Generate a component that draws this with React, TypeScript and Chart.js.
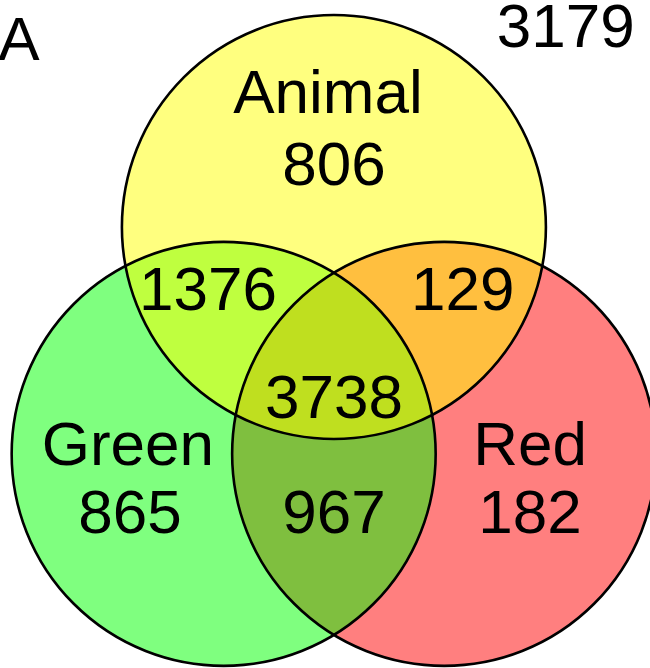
import React, { useEffect, useRef } from "react";
import { Chart, registerables } from "chart.js";

Chart.register(...registerables);

// ---- Data ----
const setNames = ["Animal", "Green", "Red"];
const setCenterX = [0, -52, 52];
const setCenterY = [0, -107, -107];
const setRadius = [100, 100, 100];

// region counts
const onlyCounts = [806, 865, 182]; // Animal only, Green only, Red only
const pairNames = ["Animal∩Green", "Animal∩Red", "Green∩Red"];
const pairCounts = [1376, 129, 967];
const allCount = 3738;
const outsideCount = 3179;
const panelLabel = "A";

// ---- Layout (label anchor positions in data units, text baseline) ----
const nameLabelPos = [
  [-2.8, 53.8],
  [-97.2, -112.3],
  [92.5, -112.3],
];
const onlyLabelPos = [
  [0, 19.8],
  [-96.2, -144.3],
  [92.5, -144.3],
];
const pairLabelPos = [
  [-59.4, -39.2],
  [60.8, -39.2],
  [0, -144.3],
];
const allLabelPos = [0, -90.1];
const outsideLabelPos = [109.4, 84.9];
const panelLabelPos = [-148.6, 78.8];

// ---- Styles ----
const fillColors = [
  "rgba(255,255,0,0.5)",
  "rgba(0,255,0,0.5)",
  "rgba(255,0,0,0.5)",
];
const FONT = '62px "Liberation Sans", Arial, Helvetica, sans-serif';

export default function App() {
  const ref = useRef<HTMLCanvasElement | null>(null);

  useEffect(() => {
    if (!ref.current) return;

    const radiusPx = (r: number) => (c: any) => {
      const s = c.chart.scales.x;
      if (!s) return 0;
      return Math.abs(s.getPixelForValue(r) - s.getPixelForValue(0));
    };

    const fillSets = setNames.map((name, i) => ({
      label: name,
      data: [{ x: setCenterX[i], y: setCenterY[i] }],
      backgroundColor: fillColors[i],
      borderColor: "rgba(0,0,0,0)",
      borderWidth: 0,
      pointRadius: radiusPx(setRadius[i]),
      pointHoverRadius: radiusPx(setRadius[i]),
      order: i + 1,
      clip: false as any,
    }));

    const borderSet = {
      label: "outline",
      data: setNames.map((_, i) => ({ x: setCenterX[i], y: setCenterY[i] })),
      backgroundColor: "rgba(0,0,0,0)",
      borderColor: "#000",
      pointBorderWidth: 2.6,
      pointRadius: (c: any) => radiusPx(setRadius[c.dataIndex] ?? 100)(c),
      pointHoverRadius: (c: any) => radiusPx(setRadius[c.dataIndex] ?? 100)(c),
      order: 0,
      clip: false as any,
    };

    const textPlugin = {
      id: "vennText",
      afterDatasetsDraw(chart: any) {
        const { ctx } = chart;
        const xs = chart.scales.x;
        const ys = chart.scales.y;
        const put = (t: string, p: number[], align: CanvasTextAlign = "center") => {
          ctx.fillText(t, xs.getPixelForValue(p[0]), ys.getPixelForValue(p[1]));
        };
        ctx.save();
        ctx.font = FONT;
        ctx.fillStyle = "#000";
        ctx.textAlign = "center";
        ctx.textBaseline = "alphabetic";
        setNames.forEach((n, i) => put(n, nameLabelPos[i]));
        onlyCounts.forEach((v, i) => put(String(v), onlyLabelPos[i]));
        pairCounts.forEach((v, i) => put(String(v), pairLabelPos[i]));
        put(String(allCount), allLabelPos);
        put(String(outsideCount), outsideLabelPos);
        put(panelLabel, panelLabelPos);
        ctx.restore();
      },
    };

    const chart = new Chart(ref.current, {
      type: "scatter",
      data: { datasets: [borderSet as any, ...(fillSets as any)] },
      options: {
        animation: false,
        responsive: false,
        maintainAspectRatio: false,
        events: [],
        layout: { padding: 0 },
        plugins: {
          legend: { display: false },
          tooltip: { enabled: false },
        },
        scales: {
          x: { type: "linear", min: -157.5, max: 149.1, display: false },
          y: { type: "linear", min: -208.0, max: 107.1, display: false },
        },
      },
      plugins: [textPlugin],
    });

    return () => chart.destroy();
  }, []);

  return (
    <div
      style={{
        position: "absolute",
        left: 0,
        top: 0,
        width: 650,
        height: 668,
        background: "#fff",
      }}
    >
      <canvas ref={ref} width={650} height={668} />
    </div>
  );
}
